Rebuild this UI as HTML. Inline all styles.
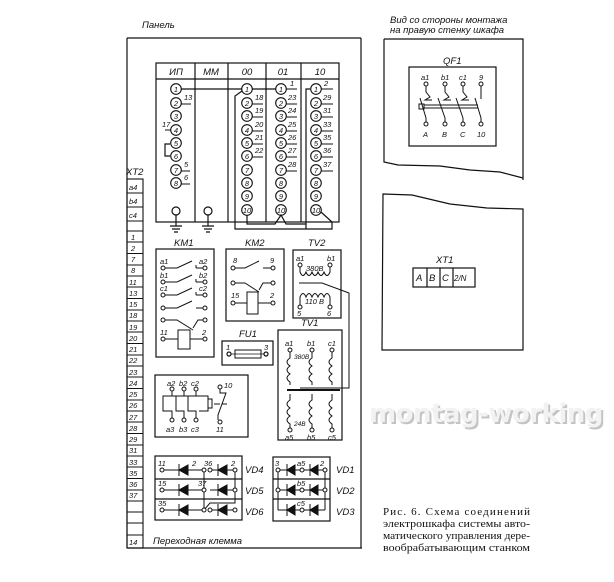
<!DOCTYPE html>
<html><head><meta charset="utf-8"><style>
html,body{margin:0;padding:0;background:#fff;}
svg{display:block;}
text{font-family:"Liberation Sans",sans-serif;font-style:italic;fill:#111;}
.t{font-size:9.5px;}
.s{font-size:7.5px;}
.c text{font-family:"Liberation Serif",serif;font-style:normal;font-size:11px;}
</style></head><body>
<svg width="614" height="582" viewBox="0 0 614 582" xmlns="http://www.w3.org/2000/svg" stroke="#111" fill="none" stroke-width="1.2">
<!-- Panel -->
<text x="142" y="28" class="t" stroke="none">Панель</text>
<path d="M127 38 H361 M127 38 V548 M127 548 H362 M361 38 V548"/>
<!-- XT2 -->
<text x="126" y="175" class="t" stroke="none">XT2</text>
<g stroke-width="1.1">
<rect x="127" y="179" width="16" height="369"/>
<path d="M127 193H143M127 207H143M127 221H143M127 231H143M127 242H143M127 253.5H143M127 265H143M127 276H143M127 287H143M127 298.5H143M127 310H143M127 321H143M127 332H143M127 343.5H143M127 355H143M127 366H143M127 377H143M127 388.5H143M127 400H143M127 411H143M127 422H143M127 433.5H143M127 445H143M127 456H143M127 467H143M127 478.5H143M127 490H143M127 501H143M127 512H143M127 523H143M127 535H143"/>
</g>
<g class="s" stroke="none" font-size="8.5">
<text x="129" y="190">a4</text><text x="129" y="204">b4</text><text x="129" y="218">c4</text>
<text x="131" y="240">1</text><text x="131" y="251">2</text><text x="131" y="262">7</text><text x="131" y="273">8</text>
<text x="129" y="285">11</text><text x="129" y="296">13</text><text x="129" y="307">15</text><text x="129" y="318">18</text>
<text x="129" y="330">19</text><text x="129" y="341">20</text><text x="129" y="352">21</text><text x="129" y="363">22</text>
<text x="129" y="375">23</text><text x="129" y="386">24</text><text x="129" y="397">25</text><text x="129" y="408">26</text>
<text x="129" y="420">27</text><text x="129" y="431">28</text><text x="129" y="442">29</text><text x="129" y="453">31</text>
<text x="129" y="465">33</text><text x="129" y="476">35</text><text x="129" y="487">36</text><text x="129" y="498">37</text>
<text x="129" y="545">14</text>
</g>
<text x="153" y="544" class="t" stroke="none">Переходная   клемма</text>

<!-- Module block -->
<rect x="156" y="63" width="183" height="159"/>
<path d="M156 79H339M195 63V222M228 63V222M266 63V222M301 63V222"/>
<g class="t" stroke="none" text-anchor="middle">
<text x="176" y="75">ИП</text><text x="211" y="75">ММ</text><text x="247" y="75">00</text><text x="283" y="75">01</text><text x="320" y="75">10</text>
</g>
<g stroke-width="1.1">
<circle cx="176" cy="89" r="5.3"/><circle cx="176" cy="103" r="5.3"/><circle cx="176" cy="116" r="5.3"/><circle cx="176" cy="130" r="5.3"/><circle cx="176" cy="143" r="5.3"/><circle cx="176" cy="156" r="5.3"/><circle cx="176" cy="170" r="5.3"/><circle cx="176" cy="183" r="5.3"/>
<circle cx="247" cy="89" r="5.3"/><circle cx="247" cy="103" r="5.3"/><circle cx="247" cy="116" r="5.3"/><circle cx="247" cy="130" r="5.3"/><circle cx="247" cy="143" r="5.3"/><circle cx="247" cy="156" r="5.3"/><circle cx="247" cy="170" r="5.3"/><circle cx="247" cy="183" r="5.3"/><circle cx="247" cy="196" r="5.3"/><circle cx="247" cy="210" r="5.3"/>
<circle cx="281" cy="89" r="5.3"/><circle cx="281" cy="103" r="5.3"/><circle cx="281" cy="116" r="5.3"/><circle cx="281" cy="130" r="5.3"/><circle cx="281" cy="143" r="5.3"/><circle cx="281" cy="156" r="5.3"/><circle cx="281" cy="170" r="5.3"/><circle cx="281" cy="183" r="5.3"/><circle cx="281" cy="196" r="5.3"/><circle cx="281" cy="210" r="5.3"/>
<circle cx="316" cy="89" r="5.3"/><circle cx="316" cy="103" r="5.3"/><circle cx="316" cy="116" r="5.3"/><circle cx="316" cy="130" r="5.3"/><circle cx="316" cy="143" r="5.3"/><circle cx="316" cy="156" r="5.3"/><circle cx="316" cy="170" r="5.3"/><circle cx="316" cy="183" r="5.3"/><circle cx="316" cy="196" r="5.3"/><circle cx="316" cy="210" r="5.3"/>
</g>
<g font-size="7" stroke="none" text-anchor="middle" class="s">
<text x="176" y="92">1</text><text x="176" y="106">2</text><text x="176" y="119">3</text><text x="176" y="133">4</text><text x="176" y="146">5</text><text x="176" y="159">6</text><text x="176" y="173">7</text><text x="176" y="186">8</text>
<text x="247" y="92">1</text><text x="247" y="106">2</text><text x="247" y="119">3</text><text x="247" y="133">4</text><text x="247" y="146">5</text><text x="247" y="159">6</text><text x="247" y="173">7</text><text x="247" y="186">8</text><text x="247" y="199">9</text><text x="247" y="213">10</text>
<text x="281" y="92">1</text><text x="281" y="106">2</text><text x="281" y="119">3</text><text x="281" y="133">4</text><text x="281" y="146">5</text><text x="281" y="159">6</text><text x="281" y="173">7</text><text x="281" y="186">8</text><text x="281" y="199">9</text><text x="281" y="213">10</text>
<text x="316" y="92">1</text><text x="316" y="106">2</text><text x="316" y="119">3</text><text x="316" y="133">4</text><text x="316" y="146">5</text><text x="316" y="159">6</text><text x="316" y="173">7</text><text x="316" y="186">8</text><text x="316" y="199">9</text><text x="316" y="213">10</text>
</g>
<g class="s" stroke="none" font-size="8.5">
<text x="184" y="100">13</text><text x="162" y="127">17</text><text x="184" y="167">5</text><text x="184" y="180">6</text>
<text x="255" y="100">18</text><text x="255" y="113">19</text><text x="255" y="127">20</text><text x="255" y="140">21</text><text x="255" y="153">22</text>
<text x="290" y="86">1</text><text x="288" y="100">23</text><text x="288" y="113">24</text><text x="288" y="127">25</text><text x="288" y="140">26</text><text x="288" y="153">27</text><text x="288" y="167">28</text>
<text x="324" y="86">2</text><text x="323" y="100">29</text><text x="323" y="113">31</text><text x="323" y="127">33</text><text x="323" y="140">35</text><text x="323" y="153">36</text><text x="323" y="167">37</text>
</g>
<g stroke-width="0.9">
<path d="M181 104H191M165 130H171M181 171H190M181 184H190"/>
<path d="M252 104H263M252 117H263M252 131H263M252 144H263M252 157H263"/>
<path d="M286 89H297M286 104H297M286 117H297M286 131H297M286 144H297M286 157H297M286 171H297"/>
<path d="M321 89H333M321 104H333M321 117H333M321 131H333M321 144H333M321 157H333M321 171H333"/>
</g>
<path d="M181 89H242M252 89H276M170 144H165V156H170"/>
<path d="M242 91L235 96V229H332V222L321 212M310 89H306V229"/>
<path d="M247 215V224H275L281 215L286 224H306"/>
<circle cx="176" cy="211" r="4"/><circle cx="208" cy="211" r="4"/>
<path d="M176 215V226M170 226H182M172 229H180M174 232H178M208 215V226M202 226H214M204 229H212M206 232H210"/>

<!-- KM1 -->
<text x="174" y="246" class="t" stroke="none">KM1</text>
<rect x="156" y="249" width="58" height="108"/>
<g stroke-width="1">
<circle cx="163" cy="268" r="2"/><circle cx="205" cy="268" r="2"/><path d="M165 268H177L192 261M196 268H203M196 265V268"/>
<circle cx="163" cy="282" r="2"/><circle cx="205" cy="282" r="2"/><path d="M165 282H177L192 275M196 282H203M196 279V282"/>
<circle cx="163" cy="295" r="2"/><circle cx="205" cy="295" r="2"/><path d="M165 295H177L192 288M196 295H203M196 292V295"/>
<circle cx="163" cy="308" r="2"/><circle cx="205" cy="308" r="2"/><path d="M165 308H177L192 301M196 308H203"/>
<circle cx="163" cy="320" r="2"/><circle cx="205" cy="320" r="2"/><path d="M165 320H177L193 330M193 328L198 320H203"/>
<circle cx="163" cy="339" r="2"/><circle cx="205" cy="339" r="2"/><rect x="178" y="330" width="12" height="19"/><path d="M165 339H178M190 339H203"/>
</g>
<g class="s" stroke="none" font-size="9">
<text x="160" y="264">a1</text><text x="199" y="264">a2</text><text x="160" y="278">b1</text><text x="199" y="278">b2</text><text x="160" y="291">c1</text><text x="199" y="291">c2</text><text x="160" y="335">11</text><text x="202" y="335">2</text>
</g>
<!-- KM2 -->
<text x="245" y="246" class="t" stroke="none">KM2</text>
<rect x="226" y="249" width="58" height="72"/>
<g stroke-width="1">
<circle cx="233" cy="268" r="2"/><circle cx="273" cy="268" r="2"/><path d="M235 268H245L259 261M263 268H271"/>
<circle cx="233" cy="283" r="2"/><circle cx="273" cy="283" r="2"/><path d="M235 283H245L259 292M259 290L263 283H271"/>
<circle cx="233" cy="303" r="2"/><circle cx="273" cy="303" r="2"/><rect x="247" y="292" width="11" height="22"/><path d="M235 303H247M258 303H271"/>
</g>
<g class="s" stroke="none" font-size="9"><text x="233" y="263">8</text><text x="270" y="263">9</text><text x="231" y="298">15</text><text x="270" y="298">2</text></g>
<!-- TV2 -->
<text x="308" y="246" class="t" stroke="none">TV2</text>
<rect x="293" y="250" width="48" height="68"/>
<g stroke-width="1">
<circle cx="300" cy="265" r="2"/><circle cx="330" cy="265" r="2"/>
<path d="M300 267V272Q303 279 306 272Q309 279 312 272Q315 279 318 272Q321 279 324 272Q327 279 330 272V267"/>
<path d="M299 283H322L349 293V388H300"/>
<path d="M300 305V297Q303 290 306 297Q309 290 312 297Q315 290 318 297Q321 290 324 297Q327 290 330 297V305"/>
<circle cx="300" cy="307" r="2"/><circle cx="330" cy="307" r="2"/>
</g>
<g class="s" stroke="none" font-size="8.5"><text x="296" y="261">a1</text><text x="327" y="261">b1</text><text x="306" y="271">380В</text><text x="305" y="304">110 В</text><text x="297" y="316">5</text><text x="327" y="316">6</text></g>
<!-- FU1 -->
<text x="239" y="337" class="t" stroke="none">FU1</text>
<rect x="222" y="341" width="51" height="24"/>
<circle cx="229" cy="354" r="2"/><circle cx="266" cy="354" r="2"/>
<rect x="235" y="350" width="26" height="8" stroke-width="1"/><path d="M231 354H264" stroke-width="0.8"/>
<g class="s" stroke="none" font-size="8.5"><text x="226" y="350">1</text><text x="264" y="350">3</text></g>
<!-- TV1 -->
<text x="301" y="326" class="t" stroke="none">TV1</text>
<rect x="278" y="330" width="64" height="110"/>
<g stroke-width="1">
<circle cx="290" cy="350" r="2"/><circle cx="312" cy="350" r="2"/><circle cx="332" cy="350" r="2"/>
<path d="M290 352V358Q284 362 290 366Q284 370 290 374Q284 378 290 382V385M312 352V358Q306 362 312 366Q306 370 312 374Q306 378 312 382V385M332 352V358Q326 362 332 366Q326 370 332 374Q326 378 332 382V385"/>
<path d="M287 390H340" stroke-width="2"/>
<path d="M290 394V400Q284 404 290 408Q284 412 290 416Q284 420 290 424V428M312 394V400Q306 404 312 408Q306 412 312 416Q306 420 312 424V428M332 394V400Q326 404 332 408Q326 412 332 416Q326 420 332 424V428"/>
<circle cx="290" cy="430" r="2"/><circle cx="312" cy="430" r="2"/><circle cx="332" cy="430" r="2"/>
</g>
<g class="s" stroke="none" font-size="9"><text x="285" y="346">a1</text><text x="307" y="346">b1</text><text x="328" y="346">c1</text><text x="294" y="359" font-size="6.5">380В</text><text x="294" y="426" font-size="6.5">24В</text><text x="285" y="440">a5</text><text x="307" y="440">b5</text><text x="328" y="440">c5</text></g>
<!-- thermal -->
<rect x="155" y="375" width="93" height="62"/>
<g stroke-width="1">
<circle cx="172" cy="389" r="2"/><circle cx="184" cy="389" r="2"/><circle cx="196" cy="389" r="2"/>
<path d="M172 391V396H163V411H172V418M184 391V396H176V411H184V418M196 391V396H188V411H196V418M163 396H208V411H199M208 399H212V408H208M214 404H220M222 404H227"/>
<circle cx="172" cy="420" r="2"/><circle cx="184" cy="420" r="2"/><circle cx="196" cy="420" r="2"/>
<circle cx="220" cy="387" r="2"/><path d="M220 389V393H226L218 415V420"/><circle cx="220" cy="422" r="2"/>
</g>
<g class="s" stroke="none" font-size="9"><text x="167" y="386">a2</text><text x="179" y="386">b2</text><text x="191" y="386">c2</text><text x="224" y="388">10</text><text x="166" y="432">a3</text><text x="179" y="432">b3</text><text x="191" y="432">c3</text><text x="216" y="432">11</text></g>
<!-- Diodes left -->
<rect x="155" y="456" width="87" height="64"/><path d="M155 479H242M155 499H242"/>
<g stroke-width="1">
<path d="M163 470H203M210 470H235M235 470V490M204 470V510L210 503H235V490M163 490H204M210 490H235M163 510H204M210 510H235"/>
<circle cx="162" cy="470" r="2" fill="#fff"/><circle cx="204" cy="470" r="2" fill="#fff"/><circle cx="210" cy="470" r="2" fill="#fff"/><circle cx="235" cy="470" r="2" fill="#fff"/>
<circle cx="162" cy="490" r="2" fill="#fff"/><circle cx="204" cy="490" r="2" fill="#fff"/><circle cx="235" cy="490" r="2" fill="#fff"/>
<circle cx="162" cy="510" r="2" fill="#fff"/><circle cx="204" cy="510" r="2" fill="#fff"/><circle cx="210" cy="510" r="2" fill="#fff"/><circle cx="235" cy="510" r="2" fill="#fff"/>
</g>
<g fill="#111" stroke-width="1">
<path d="M188 465V475L179 470Z M179 464V476"/><path d="M227 465V475L218 470Z M218 464V476"/>
<path d="M188 485V495L179 490Z M179 484V496"/><path d="M227 485V495L218 490Z M218 484V496"/>
<path d="M188 505V515L179 510Z M179 504V516"/><path d="M227 505V515L218 510Z M218 504V516"/>
</g>
<g class="s" stroke="none" font-size="9"><text x="158" y="466">11</text><text x="192" y="466">2</text><text x="204" y="466">36</text><text x="231" y="466">2</text><text x="158" y="486">15</text><text x="198" y="486">37</text><text x="158" y="506">35</text></g>
<g class="t" stroke="none"><text x="245" y="473">VD4</text><text x="245" y="494">VD5</text><text x="245" y="515">VD6</text><text x="336" y="473">VD1</text><text x="336" y="494">VD2</text><text x="336" y="515">VD3</text></g>
<!-- Diodes right -->
<rect x="273" y="457" width="57" height="64"/><path d="M273 479H330M273 499H330"/>
<g stroke-width="1">
<path d="M278 470V510M278 470H325M278 490H325M278 510H325M325 470V510"/>
<circle cx="302" cy="470" r="2" fill="#fff"/><circle cx="302" cy="490" r="2" fill="#fff"/><circle cx="302" cy="510" r="2" fill="#fff"/>
<circle cx="278" cy="470" r="2" fill="#fff"/><circle cx="325" cy="470" r="2" fill="#fff"/><circle cx="278" cy="490" r="2" fill="#fff"/><circle cx="325" cy="490" r="2" fill="#fff"/>
</g>
<g fill="#111" stroke-width="1">
<path d="M295 465V475L287 470Z M287 464V476"/><path d="M318 465V475L310 470Z M310 464V476"/>
<path d="M295 485V495L287 490Z M287 484V496"/><path d="M318 485V495L310 490Z M310 484V496"/>
<path d="M295 505V515L287 510Z M287 504V516"/><path d="M318 505V515L310 510Z M310 504V516"/>
</g>
<g class="s" stroke="none" font-size="9"><text x="275" y="466">3</text><text x="297" y="466">a5</text><text x="320" y="466">2</text><text x="297" y="486">b5</text><text x="297" y="506">c5</text></g>

<!-- Right top -->
<text x="390" y="23" class="t" stroke="none">Вид со стороны монтажа</text>
<text x="390" y="33" class="t" stroke="none">на правую стенку шкафа</text>
<path d="M384 39H523V180M384 39V162L398 165L440 166L470 170L500 172L523 178"/>
<text x="443" y="64" class="t" stroke="none">QF1</text>
<rect x="409" y="67" width="87" height="79"/>
<g stroke-width="1">
<circle cx="426" cy="84" r="2"/><circle cx="445" cy="84" r="2"/><circle cx="463" cy="84" r="2"/><circle cx="481" cy="84" r="2"/>
<path d="M426 86V92L430 97L425 100H432M445 86V92L449 97L444 100H451M463 86V92L467 97L462 100H469M481 86V99"/>
<path d="M420 98L426 118M438 98L445 118M456 98L463 118M475 98L481 118"/>
<path d="M424 105H478M424 108H478"/><rect x="419" y="104" width="5" height="5"/>
<path d="M426 118V122M445 118V122M463 118V122M481 118V122"/>
<circle cx="426" cy="124" r="2"/><circle cx="445" cy="124" r="2"/><circle cx="463" cy="124" r="2"/><circle cx="481" cy="124" r="2"/>
</g>
<g class="s" stroke="none" font-size="9"><text x="421" y="80">a1</text><text x="441" y="80">b1</text><text x="459" y="80">c1</text><text x="479" y="80">9</text><text x="423" y="137">A</text><text x="442" y="137">B</text><text x="460" y="137">C</text><text x="477" y="137">10</text></g>
<!-- Right lower -->
<path d="M383 194L412 195L450 204L487 208L523 209V350H382Z"/>
<text x="436" y="263" class="t" stroke="none">XT1</text>
<rect x="413" y="268" width="62" height="19"/><path d="M427 268V287M440 268V287M453 268V287"/>
<g class="t" stroke="none"><text x="416" y="281">A</text><text x="429" y="281">B</text><text x="442" y="281">C</text><text x="454" y="281" font-size="8">2/N</text></g>
<!-- watermark -->
<text x="371" y="424" stroke="none" style="font-family:'DejaVu Sans',sans-serif;font-style:normal;font-weight:bold;font-size:26px;fill:#c4c4c4;letter-spacing:-0.5px">montag-working</text>
<text x="369" y="422" stroke="none" style="font-family:'DejaVu Sans',sans-serif;font-style:normal;font-weight:bold;font-size:26px;fill:#f2f2f2;letter-spacing:-0.5px">montag-working</text>
<!-- caption -->
<g class="c" stroke="none">
<text x="383" y="515" textLength="147" lengthAdjust="spacing">Рис.  6.  Схема  соединений</text>
<text x="383" y="527" textLength="147" lengthAdjust="spacingAndGlyphs">электрошкафа  системы  авто-</text>
<text x="383" y="539" textLength="147" lengthAdjust="spacingAndGlyphs">матического управления дере-</text>
<text x="383" y="551" textLength="147" lengthAdjust="spacingAndGlyphs">вообрабатывающим  станком</text>
</g>
</svg>
</body></html>
